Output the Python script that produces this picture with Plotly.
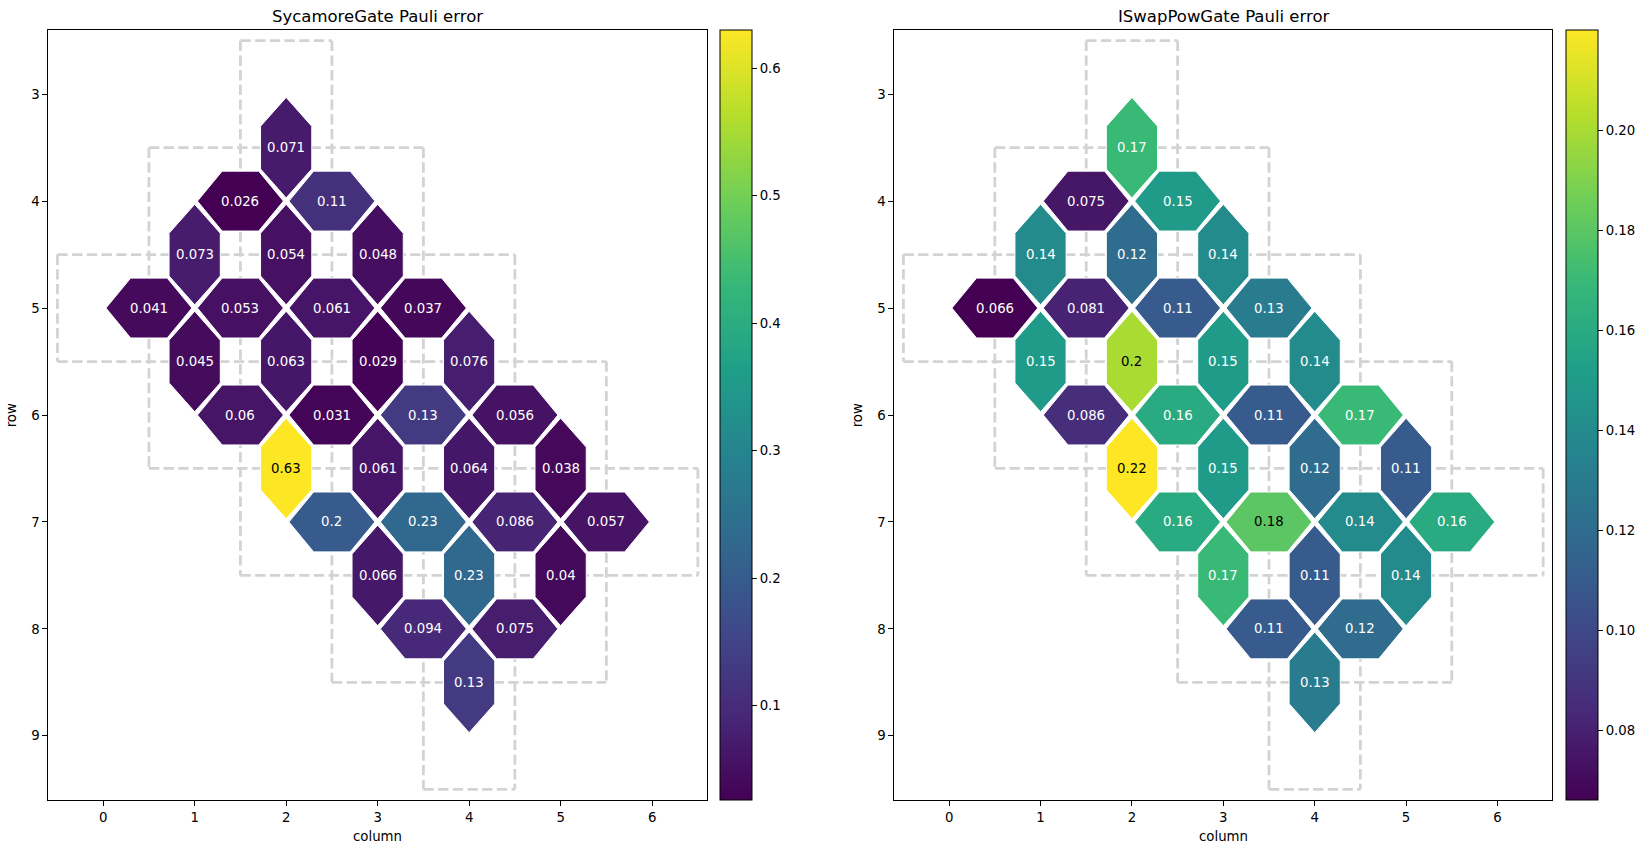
import plotly.graph_objects as go
from plotly.colors import sample_colorscale, unlabel_rgb

# qubits (row, col) on the grid
QUBITS = [(3, 2), (4, 1), (4, 2), (4, 3), (5, 0), (5, 1), (5, 2), (5, 3), (5, 4),
          (6, 1), (6, 2), (6, 3), (6, 4), (6, 5), (7, 2), (7, 3), (7, 4), (7, 5), (7, 6),
          (8, 3), (8, 4), (8, 5), (9, 4)]

# couplers between neighbouring qubits
PAIRS = [
    ((3, 2), (4, 2)), ((4, 1), (4, 2)), ((4, 2), (4, 3)),
    ((4, 1), (5, 1)), ((4, 2), (5, 2)), ((4, 3), (5, 3)),
    ((5, 0), (5, 1)), ((5, 1), (5, 2)), ((5, 2), (5, 3)), ((5, 3), (5, 4)),
    ((5, 1), (6, 1)), ((5, 2), (6, 2)), ((5, 3), (6, 3)), ((5, 4), (6, 4)),
    ((6, 1), (6, 2)), ((6, 2), (6, 3)), ((6, 3), (6, 4)), ((6, 4), (6, 5)),
    ((6, 2), (7, 2)), ((6, 3), (7, 3)), ((6, 4), (7, 4)), ((6, 5), (7, 5)),
    ((7, 2), (7, 3)), ((7, 3), (7, 4)), ((7, 4), (7, 5)), ((7, 5), (7, 6)),
    ((7, 3), (8, 3)), ((7, 4), (8, 4)), ((7, 5), (8, 5)),
    ((8, 3), (8, 4)), ((8, 4), (8, 5)),
    ((8, 4), (9, 4)),
]

SYCAMORE_ERR = [0.071, 0.026, 0.11,
                0.073, 0.054, 0.048,
                0.041, 0.053, 0.061, 0.037,
                0.045, 0.063, 0.029, 0.076,
                0.06, 0.031, 0.13, 0.056,
                0.63, 0.061, 0.064, 0.038,
                0.2, 0.23, 0.086, 0.057,
                0.066, 0.23, 0.04,
                0.094, 0.075,
                0.13]

ISWAP_ERR = [0.17, 0.075, 0.15,
             0.14, 0.12, 0.14,
             0.066, 0.081, 0.11, 0.13,
             0.15, 0.2, 0.15, 0.14,
             0.086, 0.16, 0.11, 0.17,
             0.22, 0.15, 0.12, 0.11,
             0.16, 0.18, 0.14, 0.16,
             0.17, 0.11, 0.14,
             0.11, 0.12,
             0.13]

TITLES = ["SycamoreGate Pauli error", "ISwapPowGate Pauli error"]
CBAR_TICKS = [[0.1, 0.2, 0.3, 0.4, 0.5, 0.6], [0.08, 0.10, 0.12, 0.14, 0.16, 0.18, 0.20]]
CBAR_FMT = [".1f", ".2f"]

W, H = 1648, 854
FONT = "DejaVu Sans"
AX_X = [(48.3, 707.0), (894.3, 1552.3)]   # plot area, px
AX_Y = (30.0, 800.0)
CB_X = [720.0, 1565.7]
M, S, HW = 0.03, 0.3, 0.28   # coupler hexagon geometry


def grid_lines(qubits):
    h, v = set(), set()
    for r, c in qubits:
        for y in (r - 0.5, r + 0.5):
            h.add((y, c - 0.5))
        for x in (c - 0.5, c + 0.5):
            v.add((x, r - 0.5))
    xs, ys = [], []
    for edges, horizontal in ((h, True), (v, False)):
        by_line = {}
        for line, start in edges:
            by_line.setdefault(line, []).append(start)
        for line, starts in by_line.items():
            starts.sort()
            runs = [[starts[0], starts[0] + 1]]
            for s in starts[1:]:
                if s == runs[-1][1]:
                    runs[-1][1] = s + 1
                else:
                    runs.append([s, s + 1])
            for a, b in runs:
                if horizontal:
                    xs += [a, b, None]
                    ys += [line, line, None]
                else:
                    xs += [line, line, None]
                    ys += [a, b, None]
    return xs, ys


def coupler_polygon(q1, q2):
    (r1, c1), (r2, c2) = q1, q2
    if r1 == r2:
        pts = [(c1 + M, r1), (c1 + S, r1 - HW), (c2 - S, r1 - HW),
               (c2 - M, r1), (c2 - S, r1 + HW), (c1 + S, r1 + HW)]
    else:
        pts = [(c1, r1 + M), (c1 + HW, r1 + S), (c1 + HW, r2 - S),
               (c1, r2 - M), (c1 - HW, r2 - S), (c1 - HW, r1 + S)]
    pts.append(pts[0])
    return [p[0] for p in pts], [p[1] for p in pts]


def luminance(rgb_str):
    lin = []
    for ch in unlabel_rgb(rgb_str):
        c = ch / 255.0
        lin.append(c / 12.92 if c <= 0.04045 else ((c + 0.055) / 1.055) ** 2.4)
    return 0.2126 * lin[0] + 0.7152 * lin[1] + 0.0722 * lin[2]


fig = go.Figure()
gx, gy = grid_lines(QUBITS)

for i, vals in enumerate([SYCAMORE_ERR, ISWAP_ERR]):
    xa = "x" if i == 0 else "x2"
    ya = "y" if i == 0 else "y2"
    vmin, vmax = min(vals), max(vals)

    fig.add_trace(go.Scatter(
        x=gx, y=gy, mode="lines", xaxis=xa, yaxis=ya,
        line=dict(color="lightgray", width=2.8, dash="10.3px,4.4px"),
        hoverinfo="skip", showlegend=False
    ))

    colors = sample_colorscale("Viridis", [(v - vmin) / (vmax - vmin) for v in vals])
    for (q1, q2), v, col in zip(PAIRS, vals, colors):
        px_, py_ = coupler_polygon(q1, q2)
        fig.add_trace(go.Scatter(
            x=px_, y=py_, mode="lines", fill="toself", fillcolor=col,
            line=dict(color="white", width=1), xaxis=xa, yaxis=ya,
            name=f"{q1}-{q2}", text=f"{v:.2g}", hoverinfo="text", showlegend=False
        ))
        fig.add_annotation(
            x=(q1[1] + q2[1]) / 2, y=(q1[0] + q2[0]) / 2, xref=xa, yref=ya,
            text=f"{v:.2g}", showarrow=False,
            font=dict(family=FONT, size=13.3,
                      color="black" if luminance(col) > 0.4 else "white")
        )

    # colorbar carrier
    fig.add_trace(go.Scatter(
        x=[3, 3], y=[6, 6], mode="markers", xaxis=xa, yaxis=ya,
        marker=dict(color=[vmin, vmax], colorscale="Viridis", cmin=vmin, cmax=vmax,
                    size=1, opacity=0,
                    colorbar=dict(
                        x=CB_X[i] / W, xanchor="left", xpad=0,
                        y=1 - (AX_Y[0] + AX_Y[1]) / 2 / H, yanchor="middle", ypad=0,
                        len=AX_Y[1] - AX_Y[0], lenmode="pixels", thickness=32,
                        outlinecolor="black", outlinewidth=1,
                        ticks="outside", ticklen=5, tickcolor="black",
                        tickvals=CBAR_TICKS[i], tickformat=CBAR_FMT[i],
                        tickfont=dict(family=FONT, size=13.3, color="black")
                    )),
        hoverinfo="skip", showlegend=False
    ))

    x0, x1 = AX_X[i]
    cx = (x0 + x1) / 2 / W
    txt = dict(xref="paper", yref="paper", showarrow=False,
               xanchor="center", yanchor="middle")
    fig.add_annotation(x=cx, y=1 - 16 / H, text=TITLES[i],
                       font=dict(family=FONT, size=16.5, color="black"), **txt)
    fig.add_annotation(x=cx, y=1 - 836 / H, text="column",
                       font=dict(family=FONT, size=13.3, color="black"), **txt)
    fig.add_annotation(x=(x0 - 37) / W, y=1 - 415 / H, text="row", textangle=-90,
                       font=dict(family=FONT, size=13.3, color="black"), **txt)

axis_common = dict(showgrid=False, zeroline=False, showline=True, mirror=True,
                   linecolor="black", linewidth=1, ticks="outside", ticklen=5,
                   tickcolor="black", tickfont=dict(family=FONT, size=13.3, color="black"))
ydom = [1 - AX_Y[1] / H, 1 - AX_Y[0] / H]
fig.update_layout(
    width=W, height=H, margin=dict(l=0, r=0, t=0, b=0),
    plot_bgcolor="white", paper_bgcolor="white", font=dict(family=FONT),
    xaxis=dict(domain=[AX_X[0][0] / W, AX_X[0][1] / W], range=[-0.6, 6.6],
               tickvals=list(range(7)), anchor="y", **axis_common),
    yaxis=dict(domain=ydom, range=[9.6, 2.4], tickvals=list(range(3, 10)),
               anchor="x", **axis_common),
    xaxis2=dict(domain=[AX_X[1][0] / W, AX_X[1][1] / W], range=[-0.6, 6.6],
                tickvals=list(range(7)), anchor="y2", **axis_common),
    yaxis2=dict(domain=ydom, range=[9.6, 2.4], tickvals=list(range(3, 10)),
                anchor="x2", **axis_common),
)

fig.write_html("out.html", config={"displayModeBar": False},
               post_script="document.body.style.margin='0';document.body.style.overflow='hidden';")
